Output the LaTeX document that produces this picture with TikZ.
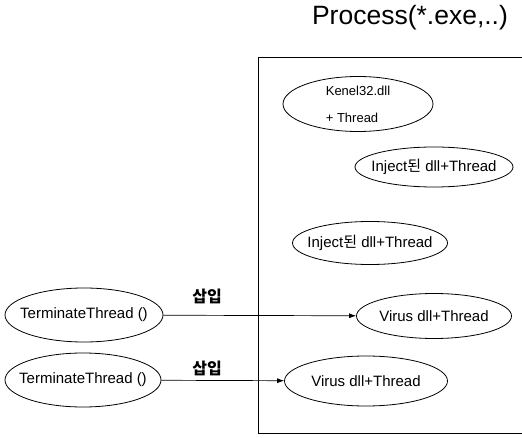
\documentclass[tikz,border=0pt]{standalone}
\usepackage{fontspec}
\setmainfont{Liberation Sans}
\newfontfamily\krfont{Noto Sans CJK KR}
\newcommand{\smalltext}{\fontsize{13}{15}\selectfont}
\usetikzlibrary{shapes.geometric, arrows.meta}
\tikzset{
    proc ellipse/.style={
        draw, ellipse, inner sep=0pt, line width=0.8pt,
        label={[font=\fontsize{15}{17}\selectfont, align=left]center:#1}
    },
    insert arrow/.style={
        draw, line width=0.7pt, -{Latex[length=7pt,width=5pt]}
    },
    insert label/.style={
        font=\krfont\bfseries\fontsize{16}{18}\selectfont
    }
}

\begin{document}
\begin{tikzpicture}[x=1pt, y=-1pt]

\useasboundingbox (0,0) rectangle (522,438);

% Caja del proceso (lado derecho fuera de la imagen).
\node (title) at (410,18) {\fontsize{26.5}{30}\selectfont Process(*.exe,..)};
\draw[line width=0.8pt] (522,57) -- (258,57) -- (258,433) -- (522,433);

% Elipses dentro del proceso.
\node[proc ellipse={\smalltext Kenel32.dll\\[10pt]\smalltext + Thread},
      minimum width=150pt, minimum height=55pt]
      (kernel) at (358,104) {};
\node[proc ellipse={Inject{\krfont 된} dll+Thread}, minimum width=158pt, minimum height=40pt]
      (injectA) at (434,167) {};
\node[proc ellipse={Inject{\krfont 된} dll+Thread}, minimum width=155pt, minimum height=43pt]
      (injectB) at (370,243) {};
\node[proc ellipse={Virus dll+Thread}, minimum width=155pt, minimum height=45pt]
      (virusA) at (434,316) {};
\node[proc ellipse={Virus dll+Thread}, minimum width=163pt, minimum height=50pt]
      (virusB) at (366,381) {};

% Elipses fuera del proceso.
\node[proc ellipse={TerminateThread ()}, minimum width=158pt, minimum height=54pt]
      (termA) at (84,315) {};
\node[proc ellipse={TerminateThread ()}, minimum width=156pt, minimum height=54pt]
      (termB) at (83,380) {};

% Flechas de insercion.
\draw[insert arrow] (termA) -- (virusA);
\draw[insert arrow] (termB) -- (virusB);
\node[insert label] (labA) at (207,296) {삽입};
\node[insert label] (labB) at (207,368) {삽입};

\end{tikzpicture}
\end{document}
